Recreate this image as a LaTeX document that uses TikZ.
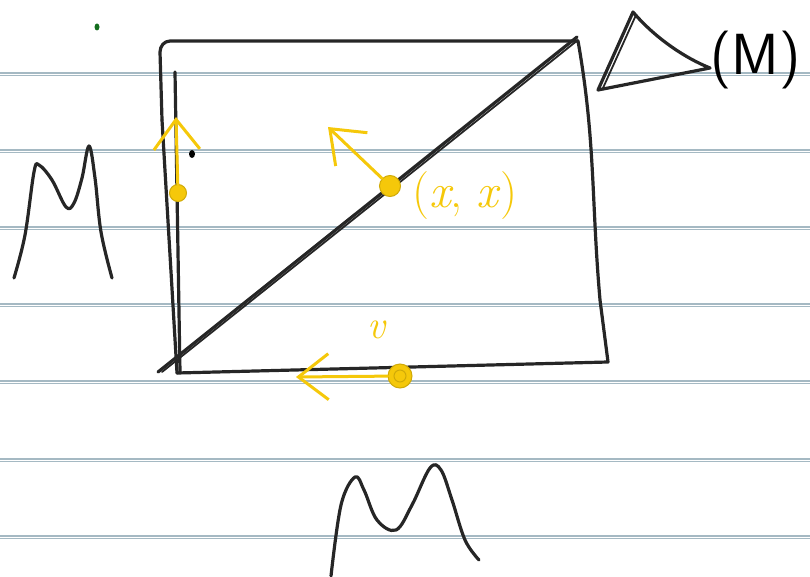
\documentclass[tikz,border=0pt]{standalone}
\usepackage{fontspec}
\usepackage{tikz}
\usetikzlibrary{positioning,arrows.meta}
\definecolor{rulecol}{RGB}{165,185,195}
\definecolor{penyel}{RGB}{245,200,10}
\definecolor{pengreen}{RGB}{20,110,30}

\begin{document}
\begin{tikzpicture}[x=1pt, y=-1pt,
        pen/.style={draw=black!85, line width=3.2pt, line cap=round, line join=round},
        rule/.style={draw=rulecol, line width=1.2pt},
        ydot/.style={circle, fill=penyel, draw=penyel!85!black, line width=1pt, minimum size=18pt, inner sep=0pt},
        yarrow/.style={draw=penyel, line width=3pt, line cap=round,
                       -{Straight Barb[length=30pt, width=46pt, line width=3pt]}},
        ytext/.style={text=penyel, font=\fontsize{48}{52}\selectfont}]
        \useasboundingbox (0,0) rectangle (810,577);
        % notebook rules
        \foreach \y in {74,151,228,305,382,460,537}{
            \draw[rule] (0,\y-1) -- (810,\y-1);
            \draw[rule] (0,\y+1.5) -- (810,\y+1.5);
        }

        % box and axis
        \draw[pen] (162,120) -- (160,52) to[out=90,in=180] (170,41) -- (578,41)
            to[out=-80,in=95] (600,300) -- (608,362) -- (177,373);
        \draw[pen] (162,120) -- (177,373);
        \draw[pen] (175,72) -- (180,372);
        % diagonal
        \draw[pen] (158,372) -- (577,37);
        \draw[pen, line width=1.8pt] (162,372) -- (578,40);
        \fill[black] (192,154) ellipse (3pt and 4pt);

        % marginal curves
        \draw[pen] plot[smooth, tension=0.6] coordinates {(14,278) (25,235) (34,172) (39,165) (52,180) (66,207) (74,203) (82,178) (89,146) (95,178) (101,232) (112,278)};
        \draw[pen] plot[smooth, tension=0.6] coordinates {(331,576) (341,505) (355,477) (364,490) (377,520) (396,530) (412,505) (430,468) (441,470) (452,500) (465,540) (479,560)};

        % triangle with (M)
        \draw[pen] (598,90) -- (633,12) .. controls (655,38) and (685,58) .. (710,68) -- cycle;
        \draw[pen, line width=1.8pt] (603,88) -- (636,15);
        \node[font=\fontsize{58}{62}\selectfont\sffamily, anchor=west, inner sep=0pt] (mlab) at (710,60) {(M)};

        % yellow points and directions
        \node[ydot, minimum size=17pt] (pa) at (178,193) {};
        \node[ydot, minimum size=21pt] (pb) at (390,186) {};
        \node[ydot, minimum size=24pt] (pc) at (400,376) {};
        \coordinate (ta) at (176,117);
        \coordinate (tb) at (328,127);
        \coordinate (tc) at (296,377);
        \draw[yarrow] (pa) -- (ta);
        \draw[yarrow] (pb) -- (tb);
        \draw[yarrow] (pc) -- (tc);
        \draw[draw=penyel!85!black, line width=1pt] (pc.center) circle (6pt);
        \node[ytext, anchor=west, inner sep=0pt] (xx) at (412,196) {(\textit{x},\;\textit{x})};
        \node[text=penyel, font=\fontsize{40}{44}\selectfont\itshape] (vlab) at (376,330) {v};

        \fill[pengreen] (97,27) ellipse (2.5pt and 3.5pt);
    \end{tikzpicture}
\end{document}
